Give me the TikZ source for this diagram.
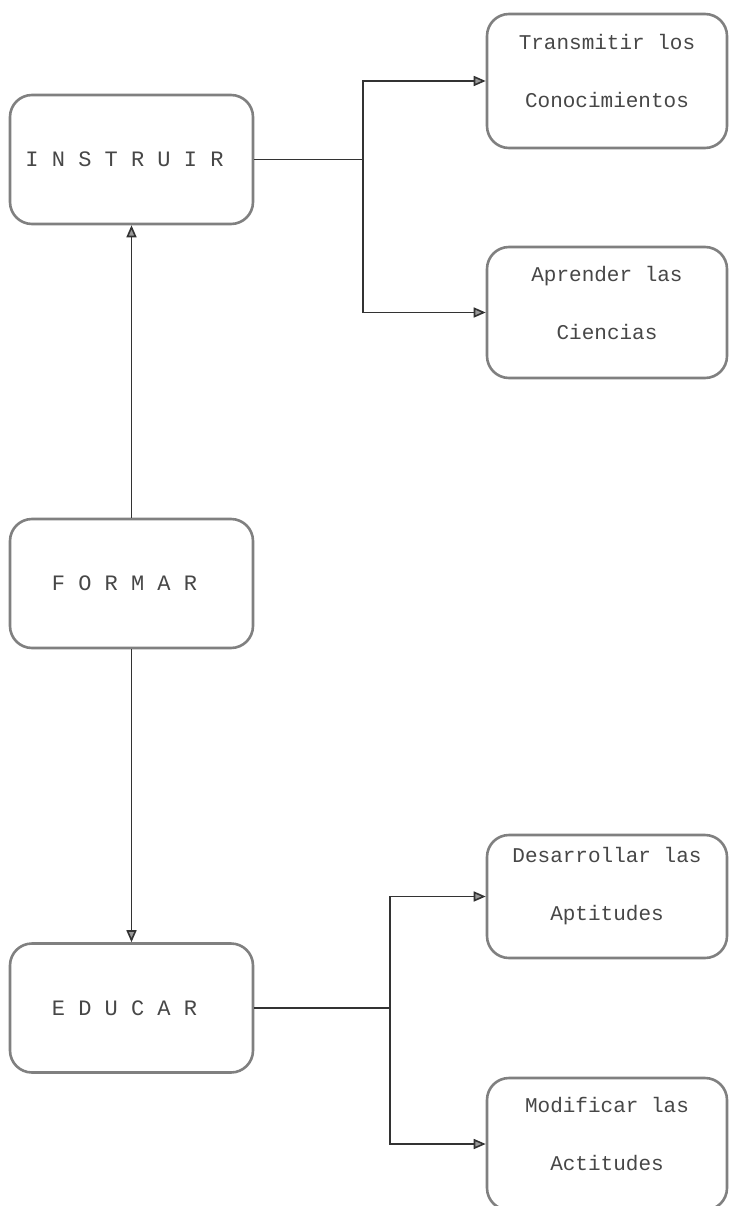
\documentclass[tikz,border=0pt]{standalone}
\usepackage{fontspec}
\setmonofont{Liberation Mono}
\usetikzlibrary{arrows.meta}
\begin{document}
\begin{tikzpicture}[x=1pt,y=-1pt,
  box/.style={draw=black!50, line width=2.6pt, rounded corners=22pt, inner sep=0pt},
  mainbox/.style={box, minimum width=243pt, minimum height=129pt},
  maintext/.style={xshift=-7pt, text=black!72,
    font=\ttfamily\fontsize{22}{22}\selectfont},
  subbox/.style={box, minimum width=240pt},
  subtext/.style={align=center, yshift=10pt, text=black!72,
    font=\ttfamily\fontsize{21}{58}\selectfont},
  conn/.style={draw=black!80, line width=1.6pt},
  arr/.style={conn, -{Triangle[length=12pt,width=10pt,fill=black!40]}}
]
\useasboundingbox[fill=white] (0,0) rectangle (728,1206);

% main column
\node[mainbox, label={[maintext]center:I N S T R U I R}] (instruir) at (131.5,159.5) {};
\node[mainbox, label={[maintext]center:F O R M A R}]     (formar)   at (131.5,583.5) {};
\node[mainbox, label={[maintext]center:E D U C A R}]     (educar)   at (131.5,1008)  {};

% detail boxes
\node[subbox, minimum height=134pt,
  label={[subtext]center:Transmitir los\\Conocimientos}] (transmitir) at (607,81) {};
\node[subbox, minimum height=131pt,
  label={[subtext]center:Aprender las\\Ciencias}] (aprender) at (607,312.5) {};
\node[subbox, minimum height=123pt,
  label={[subtext]center:Desarrollar las\\Aptitudes}] (desarrollar) at (607,896.5) {};
\node[subbox, minimum height=132pt,
  label={[subtext]center:Modificar las\\Actitudes}] (modificar) at (607,1144) {};

% branch points
\coordinate (jtop) at (363,159.5);
\coordinate (jbot) at (390,1008);

% connectors
\draw[arr] (formar.north) -- (instruir.south);
\draw[arr] (formar.south) -- (educar.north);

\draw[conn] (instruir.east) -- (jtop);
\draw[arr] (jtop) |- (transmitir.west);
\draw[arr] (jtop) |- (aprender.west);

\draw[conn] (educar.east) -- (jbot);
\draw[arr] (jbot) |- (desarrollar.west);
\draw[arr] (jbot) |- (modificar.west);
\end{tikzpicture}
\end{document}
